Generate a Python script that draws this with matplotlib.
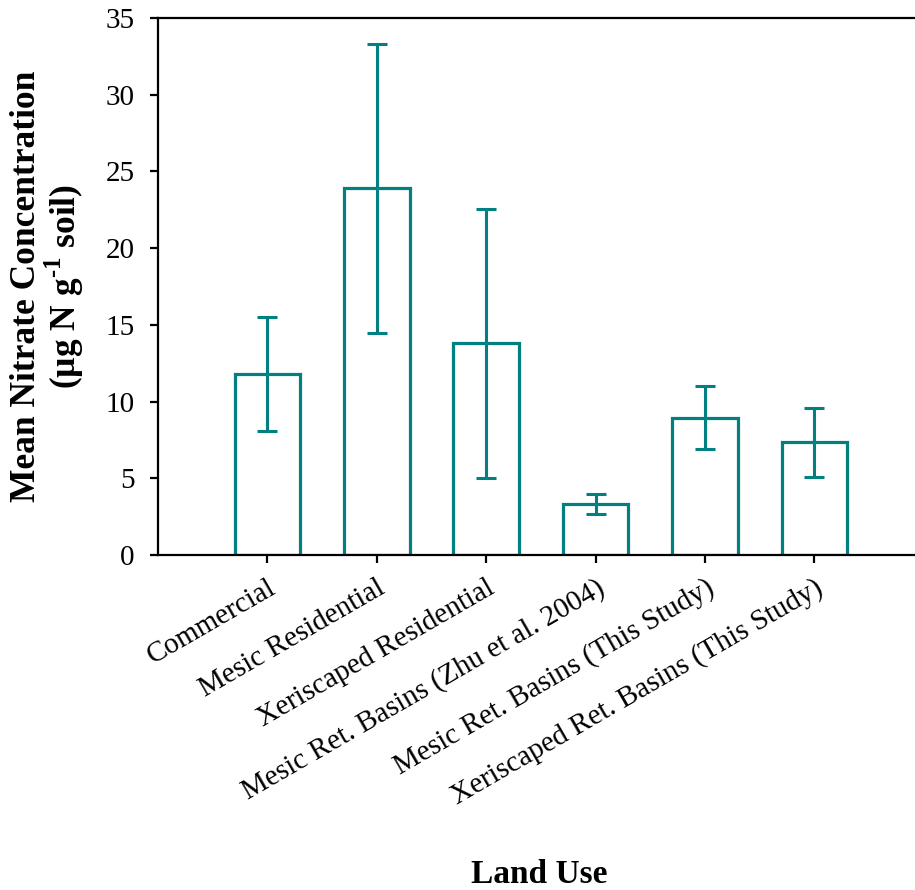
import matplotlib
matplotlib.use("Agg")
import matplotlib.pyplot as plt

plt.rcParams['font.family'] = ['Liberation Serif', 'DejaVu Serif']
plt.rcParams['mathtext.fontset'] = 'custom'
plt.rcParams['mathtext.rm'] = 'Liberation Serif:bold'
plt.rcParams['mathtext.bf'] = 'Liberation Serif:bold'

categories = ["Commercial", "Mesic Residential", "Xeriscaped Residential",
              "Mesic Ret. Basins (Zhu et al. 2004)",
              "Mesic Ret. Basins (This Study)",
              "Xeriscaped Ret. Basins (This Study)"]
means = [11.8, 23.9, 13.8, 3.3, 8.95, 7.35]
errors = [3.7, 9.4, 8.75, 0.65, 2.05, 2.25]
yticks = [0, 5, 10, 15, 20, 25, 30, 35]

teal = "#008080"

fig = plt.figure(figsize=(9.15, 8.9), dpi=100)
ax = fig.add_axes([0.1727, 0.3764, 0.837, 0.6034])

x = list(range(len(categories)))
ax.bar(x, means, width=0.6, facecolor='white', edgecolor=teal, linewidth=2.3, zorder=2)
ax.errorbar(x, means, yerr=errors, fmt='none', ecolor=teal, elinewidth=2.2,
            capsize=7.5, capthick=2.2, zorder=3)

ax.set_xlim(-1, 6)
ax.set_ylim(0, 35)
ax.set_yticks(yticks)
ax.set_yticklabels([str(v) for v in yticks], fontsize=21)
ax.set_xticks(x)
ax.set_xticklabels(categories, rotation=30, ha='right', rotation_mode='anchor', fontsize=21)

for s in ['left', 'bottom', 'top']:
    ax.spines[s].set_linewidth(1.6)
ax.spines['right'].set_visible(False)
ax.tick_params(axis='both', direction='out', length=6, width=1.6)
ax.tick_params(axis='y', pad=11)
ax.tick_params(axis='x', pad=8)

ax.set_ylabel("Mean Nitrate Concentration\n(µg N g$^{\\text{-}1}$ soil)",
              fontsize=25.5, fontweight='bold', labelpad=14, linespacing=1.0)
fig.text(0.5891, 0.008, "Land Use", fontsize=24, fontweight='bold', ha='center', va='baseline')

fig.savefig("out.png", dpi=100)
